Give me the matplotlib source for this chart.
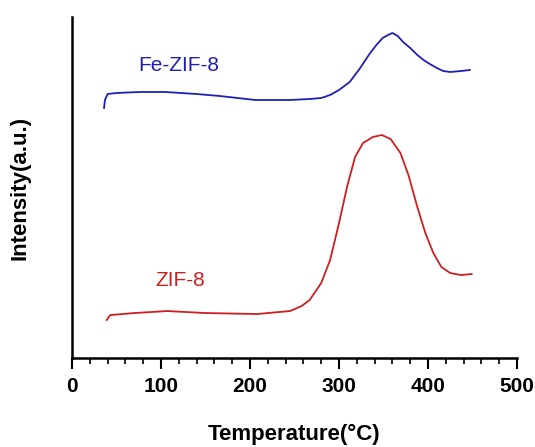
import matplotlib.pyplot as plt
from matplotlib.ticker import MultipleLocator

# TPD profiles (arbitrary intensity units)
temp_fe = [36, 37, 40, 50, 76, 105, 140, 166, 206, 245, 267, 280, 290, 300,
           312, 323, 335, 342, 349, 355, 360, 366, 372, 380, 388, 395, 402,
           410, 417, 425, 437, 447]
int_fe = [250, 258, 264, 265, 266, 266, 264, 262, 258, 258, 259, 260, 263, 268,
          276, 289, 305, 313, 320, 323, 325, 322, 316, 310, 303, 298, 294,
          290, 287, 286, 287, 288]

temp_zif = [39, 43, 70, 107, 150, 208, 245, 258, 267, 280, 290, 300, 309, 318,
            327, 338, 348, 358, 369, 378, 388, 397, 406, 415, 425, 437, 449]
int_zif = [38, 43, 45, 47, 45, 44, 47, 52, 58, 75, 98, 135, 171, 201, 215,
           221, 223, 219, 205, 183, 151, 125, 105, 91, 85, 83, 84]

label_fe = "Fe-ZIF-8"
label_zif = "ZIF-8"

plt.rcParams['font.family'] = ['Liberation Sans', 'DejaVu Sans']

fig = plt.figure(figsize=(5.35, 4.47), dpi=100)
ax = fig.add_axes([0.1346, 0.199, 0.8318, 0.763])

ax.plot(temp_fe, int_fe, color='#1f1fb0', lw=1.3)
ax.plot(temp_zif, int_zif, color='#cc1f1f', lw=1.3)

ax.text(120, 292, label_fe, color='#1f1fb0', fontsize=15, ha='center', va='center')
ax.text(122, 78, label_zif, color='#cc1f1f', fontsize=15, ha='center', va='center')

ax.set_xlim(0, 500)
ax.set_ylim(0, 341)
ax.xaxis.set_major_locator(MultipleLocator(100))
ax.xaxis.set_minor_locator(MultipleLocator(20))
ax.set_yticks([])

for side in ['top', 'right']:
    ax.spines[side].set_visible(False)
for side in ['left', 'bottom']:
    ax.spines[side].set_linewidth(1.8)

ax.tick_params(axis='x', which='major', direction='out', length=8, width=1.5,
               labelsize=15, pad=6)
ax.tick_params(axis='x', which='minor', direction='out', length=4, width=1.2)
for lbl in ax.get_xticklabels():
    lbl.set_fontweight('bold')

ax.set_xlabel("Temperature(°C)", fontsize=16, fontweight='bold', labelpad=20)
ax.set_ylabel("Intensity(a.u.)", fontsize=16, fontweight='bold', labelpad=30)

fig.savefig("out.png", dpi=100)
